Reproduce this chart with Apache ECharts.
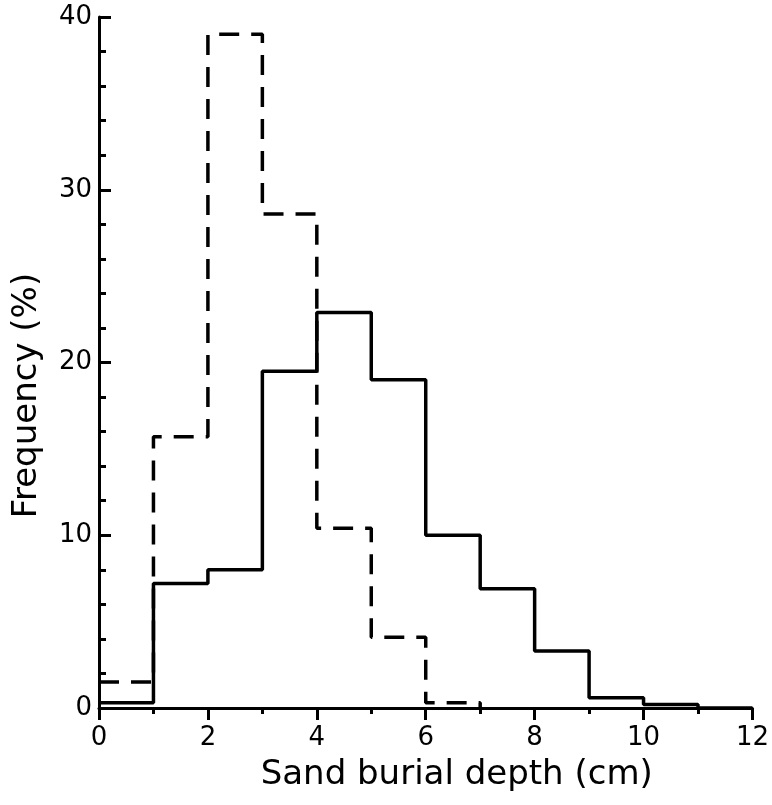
<!DOCTYPE html>
<html>
<head>
<meta charset="utf-8">
<script src="https://cdn.jsdelivr.net/npm/echarts@6/dist/echarts.min.js"></script>
<style>html,body{margin:0;padding:0;background:#fff;}#c{width:772px;height:805px;}</style>
</head>
<body>
<div id="c"></div>
<script>
// Bin starts (cm); each bin is 1 cm wide
const binStarts = [0, 1, 2, 3, 4, 5, 6, 7, 8, 9, 10, 11];
// Solid histogram (%)
const solidValues = [0.3, 7.2, 8.0, 19.5, 22.9, 19.0, 10.0, 6.9, 3.3, 0.6, 0.2, 0];
// Dashed histogram (%) — bins 0..6
const dashedValues = [1.5, 15.7, 39.0, 28.6, 10.4, 4.1, 0.3];
const xTicks = [0, 2, 4, 6, 8, 10, 12];
const yTicks = [0, 10, 20, 30, 40];

function stepData(vals) {
  const d = vals.map((v, i) => [binStarts[i], v]);
  d.push([binStarts[vals.length - 1] + 1, 0]);
  return d;
}

const FONT = 'DejaVu Sans';
const chart = echarts.init(document.getElementById('c'), null, {renderer: 'canvas'});
chart.setOption({
  backgroundColor: '#fff',
  animation: false,
  grid: {left: 99, right: 19, top: 17, bottom: 97, containLabel: false},
  xAxis: {
    type: 'value', min: xTicks[0], max: xTicks[xTicks.length - 1], interval: 2,
    name: 'Sand burial depth (cm)', nameLocation: 'middle', nameGap: 50,
    nameTextStyle: {fontFamily: FONT, fontSize: 34, color: '#000', padding: [0, 0, 0, 62]},
    axisLine: {lineStyle: {color: '#000', width: 3}},
    axisTick: {inside: false, length: 12, lineStyle: {color: '#000', width: 3}},
    minorTick: {show: true, splitNumber: 2, length: 6, lineStyle: {color: '#000', width: 3}},
    axisLabel: {fontFamily: FONT, fontSize: 26, color: '#000', margin: 17},
    splitLine: {show: false}
  },
  yAxis: {
    type: 'value', min: yTicks[0], max: yTicks[yTicks.length - 1], interval: 10,
    name: 'Frequency (%)', nameLocation: 'middle', nameGap: 55, nameRotate: 90,
    nameTextStyle: {fontFamily: FONT, fontSize: 34, color: '#000', padding: [0, 66, 0, 0]},
    axisLine: {show: true, lineStyle: {color: '#000', width: 3}},
    axisTick: {show: true, inside: true, length: 12, lineStyle: {color: '#000', width: 3}},
    minorTick: {show: true, splitNumber: 5, length: 7, lineStyle: {color: '#000', width: 3}},
    axisLabel: {fontFamily: FONT, fontSize: 26, color: '#000', margin: 7},
    splitLine: {show: false}
  },
  series: [
    {
      type: 'line', step: 'end', data: stepData(solidValues), symbol: 'none',
      lineStyle: {color: '#000', width: 3.5, type: 'solid'}, z: 3
    },
    {
      type: 'line', step: 'end', data: stepData(dashedValues), symbol: 'none',
      lineStyle: {color: '#000', width: 3.5, type: [20, 12]}, z: 2
    }
  ]
});
</script>
</body>
</html>
